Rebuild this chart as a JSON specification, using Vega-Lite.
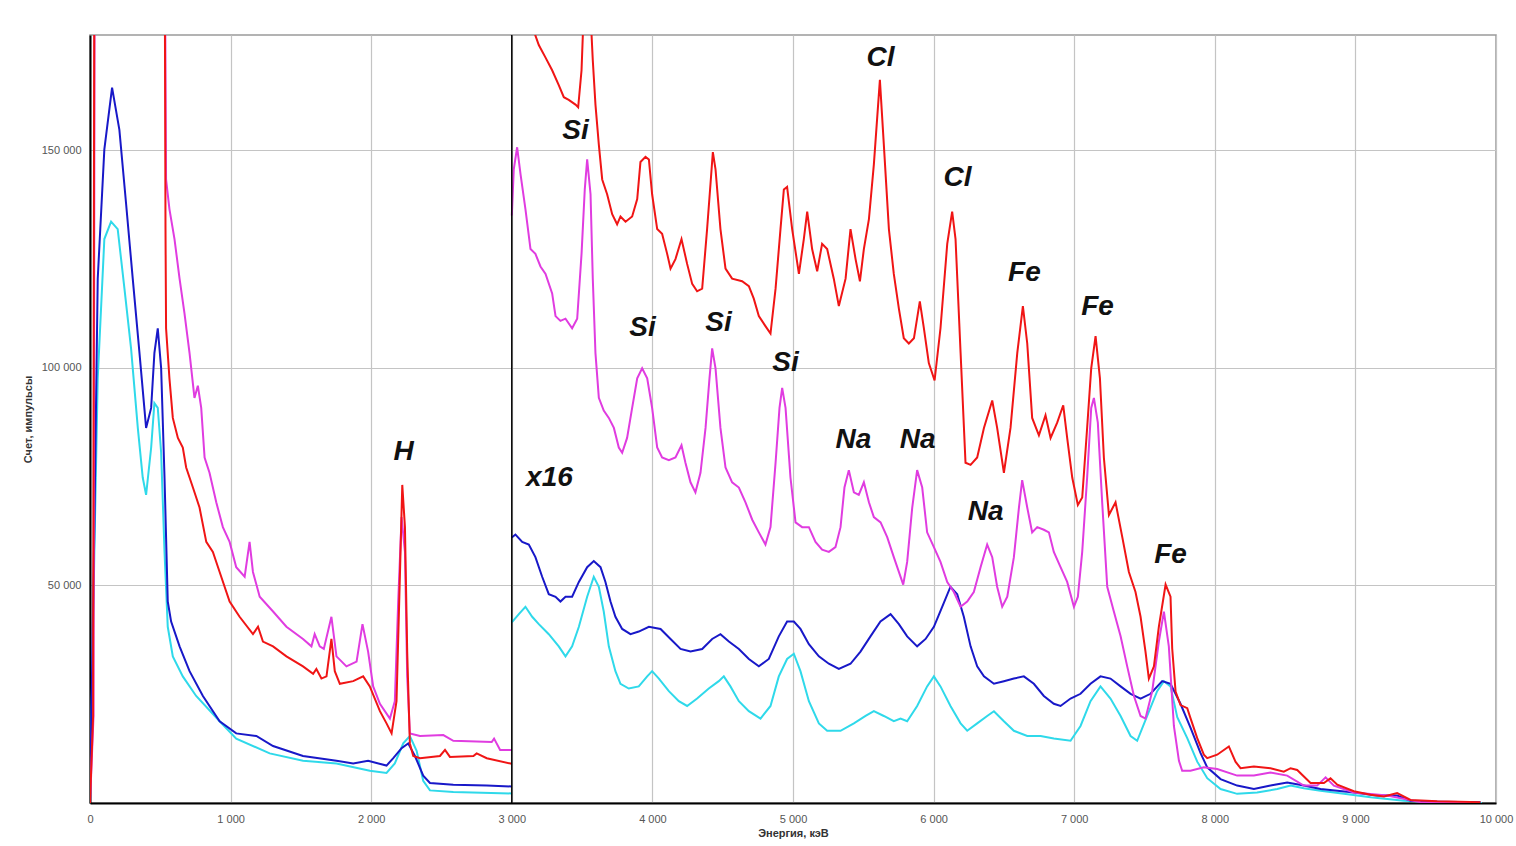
{
"$schema": "https://vega.github.io/schema/vega-lite/v6.json",
"width": 1406, "height": 768,
"autosize": {"type": "none"},
"padding": {"left": 90, "top": 35, "right": 20, "bottom": 43},
"background": "white",
"config": {"view": {"stroke": "#9a9a9a", "strokeWidth": 1.5}, "font": "Liberation Sans"},
"datasets": {
"spec": [
{"s":"cyan","p":"L","x":0,"y":0},{"s":"cyan","p":"L","x":31,"y":57700},{"s":"cyan","p":"L","x":55,"y":97600},{"s":"cyan","p":"L","x":102,"y":129600},{"s":"cyan","p":"L","x":150,"y":133600},{"s":"cyan","p":"L","x":197,"y":131900},{"s":"cyan","p":"L","x":245,"y":118200},{"s":"cyan","p":"L","x":292,"y":104500},{"s":"cyan","p":"L","x":340,"y":86200},{"s":"cyan","p":"L","x":375,"y":74800},{"s":"cyan","p":"L","x":399,"y":70800},{"s":"cyan","p":"L","x":435,"y":81700},{"s":"cyan","p":"L","x":458,"y":91900},{"s":"cyan","p":"L","x":482,"y":90800},{"s":"cyan","p":"L","x":506,"y":80500},{"s":"cyan","p":"L","x":530,"y":57700},{"s":"cyan","p":"L","x":553,"y":40500},{"s":"cyan","p":"L","x":589,"y":33700},{"s":"cyan","p":"L","x":660,"y":29100},{"s":"cyan","p":"L","x":755,"y":24600},{"s":"cyan","p":"L","x":922,"y":18800},{"s":"cyan","p":"L","x":1040,"y":14800},{"s":"cyan","p":"L","x":1278,"y":11400},{"s":"cyan","p":"L","x":1515,"y":9700},{"s":"cyan","p":"L","x":1753,"y":9100},{"s":"cyan","p":"L","x":1990,"y":7400},{"s":"cyan","p":"L","x":2109,"y":6900},{"s":"cyan","p":"L","x":2168,"y":9100},{"s":"cyan","p":"L","x":2228,"y":13700},{"s":"cyan","p":"L","x":2275,"y":15400},{"s":"cyan","p":"L","x":2323,"y":12000},{"s":"cyan","p":"L","x":2370,"y":5100},{"s":"cyan","p":"L","x":2418,"y":2900},{"s":"cyan","p":"L","x":2584,"y":2500},{"s":"cyan","p":"L","x":3000,"y":2200},
{"s":"blue","p":"L","x":0,"y":0},{"s":"blue","p":"L","x":31,"y":63400},{"s":"blue","p":"L","x":55,"y":120500},{"s":"blue","p":"L","x":102,"y":150200},{"s":"blue","p":"L","x":157,"y":164400},{"s":"blue","p":"L","x":209,"y":154700},{"s":"blue","p":"L","x":257,"y":137600},{"s":"blue","p":"L","x":304,"y":120500},{"s":"blue","p":"L","x":352,"y":103400},{"s":"blue","p":"L","x":399,"y":86200},{"s":"blue","p":"L","x":435,"y":90800},{"s":"blue","p":"L","x":458,"y":103400},{"s":"blue","p":"L","x":482,"y":109100},{"s":"blue","p":"L","x":506,"y":99900},{"s":"blue","p":"L","x":530,"y":74800},{"s":"blue","p":"L","x":553,"y":46300},{"s":"blue","p":"L","x":577,"y":41700},{"s":"blue","p":"L","x":637,"y":36000},{"s":"blue","p":"L","x":708,"y":30300},{"s":"blue","p":"L","x":803,"y":24600},{"s":"blue","p":"L","x":922,"y":18800},{"s":"blue","p":"L","x":1040,"y":16000},{"s":"blue","p":"L","x":1183,"y":15400},{"s":"blue","p":"L","x":1302,"y":13100},{"s":"blue","p":"L","x":1515,"y":10800},{"s":"blue","p":"L","x":1753,"y":9700},{"s":"blue","p":"L","x":1872,"y":9100},{"s":"blue","p":"L","x":1978,"y":9700},{"s":"blue","p":"L","x":2109,"y":8600},{"s":"blue","p":"L","x":2157,"y":10300},{"s":"blue","p":"L","x":2216,"y":12600},{"s":"blue","p":"L","x":2263,"y":13700},{"s":"blue","p":"L","x":2311,"y":10800},{"s":"blue","p":"L","x":2370,"y":6300},{"s":"blue","p":"L","x":2418,"y":4600},{"s":"blue","p":"L","x":2584,"y":4200},{"s":"blue","p":"L","x":2822,"y":4000},{"s":"blue","p":"L","x":3000,"y":3800},
{"s":"magenta","p":"L","x":0,"y":0},{"s":"magenta","p":"L","x":25,"y":20000},{"s":"magenta","p":"L","x":38,"y":300000},{"s":"magenta","p":"L","x":528,"y":300000},{"s":"magenta","p":"L","x":532,"y":200000},{"s":"magenta","p":"L","x":541,"y":143300},{"s":"magenta","p":"L","x":565,"y":136500},{"s":"magenta","p":"L","x":601,"y":129600},{"s":"magenta","p":"L","x":637,"y":120500},{"s":"magenta","p":"L","x":672,"y":112500},{"s":"magenta","p":"L","x":708,"y":103400},{"s":"magenta","p":"L","x":743,"y":93100},{"s":"magenta","p":"L","x":767,"y":95900},{"s":"magenta","p":"L","x":791,"y":90800},{"s":"magenta","p":"L","x":815,"y":79400},{"s":"magenta","p":"L","x":850,"y":75900},{"s":"magenta","p":"L","x":898,"y":69100},{"s":"magenta","p":"L","x":945,"y":63400},{"s":"magenta","p":"L","x":993,"y":60000},{"s":"magenta","p":"L","x":1040,"y":54200},{"s":"magenta","p":"L","x":1100,"y":52000},{"s":"magenta","p":"L","x":1135,"y":60000},{"s":"magenta","p":"L","x":1159,"y":53100},{"s":"magenta","p":"L","x":1207,"y":47400},{"s":"magenta","p":"L","x":1302,"y":44000},{"s":"magenta","p":"L","x":1397,"y":40500},{"s":"magenta","p":"L","x":1515,"y":37700},{"s":"magenta","p":"L","x":1575,"y":36000},{"s":"magenta","p":"L","x":1598,"y":38800},{"s":"magenta","p":"L","x":1634,"y":36000},{"s":"magenta","p":"L","x":1663,"y":35400},{"s":"magenta","p":"L","x":1717,"y":42800},{"s":"magenta","p":"L","x":1753,"y":33700},{"s":"magenta","p":"L","x":1824,"y":31400},{"s":"magenta","p":"L","x":1896,"y":32500},{"s":"magenta","p":"L","x":1938,"y":41100},{"s":"magenta","p":"L","x":1978,"y":34800},{"s":"magenta","p":"L","x":2014,"y":26800},{"s":"magenta","p":"L","x":2062,"y":22800},{"s":"magenta","p":"L","x":2133,"y":19400},{"s":"magenta","p":"L","x":2168,"y":23400},{"s":"magenta","p":"L","x":2192,"y":46300},{"s":"magenta","p":"L","x":2216,"y":65700},{"s":"magenta","p":"L","x":2240,"y":57700},{"s":"magenta","p":"L","x":2256,"y":29100},{"s":"magenta","p":"L","x":2275,"y":16000},{"s":"magenta","p":"L","x":2347,"y":15400},{"s":"magenta","p":"L","x":2513,"y":15600},{"s":"magenta","p":"L","x":2584,"y":14300},{"s":"magenta","p":"L","x":2857,"y":14000},{"s":"magenta","p":"L","x":2874,"y":14800},{"s":"magenta","p":"L","x":2917,"y":12200},{"s":"magenta","p":"L","x":3000,"y":12200},
{"s":"red","p":"L","x":0,"y":0},{"s":"red","p":"L","x":22,"y":20000},{"s":"red","p":"L","x":36,"y":300000},{"s":"red","p":"L","x":526,"y":300000},{"s":"red","p":"L","x":531,"y":200000},{"s":"red","p":"L","x":537,"y":131900},{"s":"red","p":"L","x":541,"y":109100},{"s":"red","p":"L","x":565,"y":97600},{"s":"red","p":"L","x":589,"y":88500},{"s":"red","p":"L","x":625,"y":83900},{"s":"red","p":"L","x":660,"y":81700},{"s":"red","p":"L","x":684,"y":77100},{"s":"red","p":"L","x":732,"y":72500},{"s":"red","p":"L","x":779,"y":67900},{"s":"red","p":"L","x":827,"y":60000},{"s":"red","p":"L","x":874,"y":57700},{"s":"red","p":"L","x":922,"y":53100},{"s":"red","p":"L","x":993,"y":46300},{"s":"red","p":"L","x":1064,"y":42800},{"s":"red","p":"L","x":1159,"y":38800},{"s":"red","p":"L","x":1195,"y":40500},{"s":"red","p":"L","x":1230,"y":37100},{"s":"red","p":"L","x":1302,"y":36000},{"s":"red","p":"L","x":1397,"y":33700},{"s":"red","p":"L","x":1515,"y":31400},{"s":"red","p":"L","x":1587,"y":29700},{"s":"red","p":"L","x":1610,"y":30800},{"s":"red","p":"L","x":1646,"y":28600},{"s":"red","p":"L","x":1682,"y":29100},{"s":"red","p":"L","x":1717,"y":37700},{"s":"red","p":"L","x":1741,"y":30300},{"s":"red","p":"L","x":1777,"y":27400},{"s":"red","p":"L","x":1872,"y":28000},{"s":"red","p":"L","x":1943,"y":29100},{"s":"red","p":"L","x":1990,"y":26800},{"s":"red","p":"L","x":2062,"y":21100},{"s":"red","p":"L","x":2109,"y":18300},{"s":"red","p":"L","x":2145,"y":16000},{"s":"red","p":"L","x":2180,"y":23400},{"s":"red","p":"L","x":2204,"y":52000},{"s":"red","p":"L","x":2221,"y":73100},{"s":"red","p":"L","x":2240,"y":63400},{"s":"red","p":"L","x":2256,"y":34800},{"s":"red","p":"L","x":2275,"y":13700},{"s":"red","p":"L","x":2299,"y":10800},{"s":"red","p":"L","x":2347,"y":10300},{"s":"red","p":"L","x":2489,"y":10800},{"s":"red","p":"L","x":2525,"y":12200},{"s":"red","p":"L","x":2560,"y":10600},{"s":"red","p":"L","x":2727,"y":10800},{"s":"red","p":"L","x":2750,"y":11400},{"s":"red","p":"L","x":2822,"y":10300},{"s":"red","p":"L","x":3000,"y":9000},
{"s":"cyan","p":"R","x":3000,"y":41500},{"s":"cyan","p":"R","x":3050,"y":43400},{"s":"cyan","p":"R","x":3097,"y":45100},{"s":"cyan","p":"R","x":3145,"y":42800},{"s":"cyan","p":"R","x":3192,"y":41100},{"s":"cyan","p":"R","x":3263,"y":38800},{"s":"cyan","p":"R","x":3334,"y":36000},{"s":"cyan","p":"R","x":3382,"y":33700},{"s":"cyan","p":"R","x":3429,"y":36000},{"s":"cyan","p":"R","x":3477,"y":40500},{"s":"cyan","p":"R","x":3536,"y":47400},{"s":"cyan","p":"R","x":3583,"y":52000},{"s":"cyan","p":"R","x":3619,"y":49700},{"s":"cyan","p":"R","x":3654,"y":44000},{"s":"cyan","p":"R","x":3690,"y":36000},{"s":"cyan","p":"R","x":3737,"y":30300},{"s":"cyan","p":"R","x":3773,"y":27400},{"s":"cyan","p":"R","x":3832,"y":26300},{"s":"cyan","p":"R","x":3903,"y":26800},{"s":"cyan","p":"R","x":3963,"y":29100},{"s":"cyan","p":"R","x":3998,"y":30300},{"s":"cyan","p":"R","x":4046,"y":28600},{"s":"cyan","p":"R","x":4117,"y":25700},{"s":"cyan","p":"R","x":4188,"y":23400},{"s":"cyan","p":"R","x":4247,"y":22300},{"s":"cyan","p":"R","x":4318,"y":24000},{"s":"cyan","p":"R","x":4401,"y":26300},{"s":"cyan","p":"R","x":4472,"y":28000},{"s":"cyan","p":"R","x":4508,"y":29100},{"s":"cyan","p":"R","x":4555,"y":26800},{"s":"cyan","p":"R","x":4615,"y":23400},{"s":"cyan","p":"R","x":4686,"y":21100},{"s":"cyan","p":"R","x":4769,"y":19400},{"s":"cyan","p":"R","x":4840,"y":22300},{"s":"cyan","p":"R","x":4899,"y":29100},{"s":"cyan","p":"R","x":4958,"y":33100},{"s":"cyan","p":"R","x":5006,"y":34300},{"s":"cyan","p":"R","x":5053,"y":30300},{"s":"cyan","p":"R","x":5113,"y":23400},{"s":"cyan","p":"R","x":5184,"y":18300},{"s":"cyan","p":"R","x":5243,"y":16600},{"s":"cyan","p":"R","x":5302,"y":16600},{"s":"cyan","p":"R","x":5338,"y":16600},{"s":"cyan","p":"R","x":5433,"y":18300},{"s":"cyan","p":"R","x":5516,"y":20000},{"s":"cyan","p":"R","x":5575,"y":21100},{"s":"cyan","p":"R","x":5646,"y":20000},{"s":"cyan","p":"R","x":5717,"y":18800},{"s":"cyan","p":"R","x":5765,"y":19400},{"s":"cyan","p":"R","x":5812,"y":18800},{"s":"cyan","p":"R","x":5883,"y":22300},{"s":"cyan","p":"R","x":5954,"y":26800},{"s":"cyan","p":"R","x":6002,"y":29100},{"s":"cyan","p":"R","x":6049,"y":26800},{"s":"cyan","p":"R","x":6120,"y":22300},{"s":"cyan","p":"R","x":6192,"y":18300},{"s":"cyan","p":"R","x":6239,"y":16600},{"s":"cyan","p":"R","x":6310,"y":18300},{"s":"cyan","p":"R","x":6381,"y":20000},{"s":"cyan","p":"R","x":6429,"y":21100},{"s":"cyan","p":"R","x":6500,"y":18800},{"s":"cyan","p":"R","x":6571,"y":16600},{"s":"cyan","p":"R","x":6666,"y":15400},{"s":"cyan","p":"R","x":6761,"y":15400},{"s":"cyan","p":"R","x":6855,"y":14800},{"s":"cyan","p":"R","x":6974,"y":14300},{"s":"cyan","p":"R","x":7045,"y":17700},{"s":"cyan","p":"R","x":7116,"y":23400},{"s":"cyan","p":"R","x":7187,"y":26800},{"s":"cyan","p":"R","x":7258,"y":24000},{"s":"cyan","p":"R","x":7330,"y":20000},{"s":"cyan","p":"R","x":7401,"y":15400},{"s":"cyan","p":"R","x":7448,"y":14300},{"s":"cyan","p":"R","x":7519,"y":20000},{"s":"cyan","p":"R","x":7590,"y":25700},{"s":"cyan","p":"R","x":7638,"y":28000},{"s":"cyan","p":"R","x":7685,"y":26800},{"s":"cyan","p":"R","x":7733,"y":19700},{"s":"cyan","p":"R","x":7804,"y":14900},{"s":"cyan","p":"R","x":7875,"y":9500},{"s":"cyan","p":"R","x":7946,"y":5700},{"s":"cyan","p":"R","x":8041,"y":3200},{"s":"cyan","p":"R","x":8159,"y":2100},{"s":"cyan","p":"R","x":8301,"y":2400},{"s":"cyan","p":"R","x":8444,"y":3200},{"s":"cyan","p":"R","x":8539,"y":4000},{"s":"cyan","p":"R","x":8633,"y":3400},{"s":"cyan","p":"R","x":8752,"y":2800},{"s":"cyan","p":"R","x":8918,"y":2100},{"s":"cyan","p":"R","x":9108,"y":1300},{"s":"cyan","p":"R","x":9345,"y":500},{"s":"cyan","p":"R","x":9582,"y":150},{"s":"cyan","p":"R","x":9900,"y":0},
{"s":"blue","p":"R","x":3000,"y":61000},{"s":"blue","p":"R","x":3026,"y":61700},{"s":"blue","p":"R","x":3074,"y":60000},{"s":"blue","p":"R","x":3121,"y":59400},{"s":"blue","p":"R","x":3168,"y":56500},{"s":"blue","p":"R","x":3216,"y":52000},{"s":"blue","p":"R","x":3263,"y":48000},{"s":"blue","p":"R","x":3311,"y":47400},{"s":"blue","p":"R","x":3346,"y":46300},{"s":"blue","p":"R","x":3382,"y":47400},{"s":"blue","p":"R","x":3429,"y":47400},{"s":"blue","p":"R","x":3477,"y":50800},{"s":"blue","p":"R","x":3536,"y":54200},{"s":"blue","p":"R","x":3583,"y":55600},{"s":"blue","p":"R","x":3631,"y":54200},{"s":"blue","p":"R","x":3666,"y":50800},{"s":"blue","p":"R","x":3702,"y":46300},{"s":"blue","p":"R","x":3737,"y":42800},{"s":"blue","p":"R","x":3785,"y":40000},{"s":"blue","p":"R","x":3844,"y":38800},{"s":"blue","p":"R","x":3903,"y":39400},{"s":"blue","p":"R","x":3975,"y":40500},{"s":"blue","p":"R","x":4058,"y":40000},{"s":"blue","p":"R","x":4129,"y":37700},{"s":"blue","p":"R","x":4200,"y":35400},{"s":"blue","p":"R","x":4271,"y":34800},{"s":"blue","p":"R","x":4354,"y":35400},{"s":"blue","p":"R","x":4425,"y":37700},{"s":"blue","p":"R","x":4484,"y":38800},{"s":"blue","p":"R","x":4544,"y":37100},{"s":"blue","p":"R","x":4615,"y":35400},{"s":"blue","p":"R","x":4686,"y":33100},{"s":"blue","p":"R","x":4757,"y":31400},{"s":"blue","p":"R","x":4828,"y":33100},{"s":"blue","p":"R","x":4899,"y":38300},{"s":"blue","p":"R","x":4958,"y":41700},{"s":"blue","p":"R","x":5006,"y":41700},{"s":"blue","p":"R","x":5053,"y":40000},{"s":"blue","p":"R","x":5113,"y":36500},{"s":"blue","p":"R","x":5184,"y":33700},{"s":"blue","p":"R","x":5255,"y":32000},{"s":"blue","p":"R","x":5326,"y":30800},{"s":"blue","p":"R","x":5409,"y":32000},{"s":"blue","p":"R","x":5480,"y":34800},{"s":"blue","p":"R","x":5551,"y":38300},{"s":"blue","p":"R","x":5622,"y":41700},{"s":"blue","p":"R","x":5694,"y":43400},{"s":"blue","p":"R","x":5753,"y":41100},{"s":"blue","p":"R","x":5812,"y":38300},{"s":"blue","p":"R","x":5883,"y":36000},{"s":"blue","p":"R","x":5943,"y":37700},{"s":"blue","p":"R","x":6002,"y":40500},{"s":"blue","p":"R","x":6061,"y":45100},{"s":"blue","p":"R","x":6120,"y":49700},{"s":"blue","p":"R","x":6168,"y":48000},{"s":"blue","p":"R","x":6215,"y":42800},{"s":"blue","p":"R","x":6263,"y":36000},{"s":"blue","p":"R","x":6310,"y":31400},{"s":"blue","p":"R","x":6358,"y":29100},{"s":"blue","p":"R","x":6429,"y":27400},{"s":"blue","p":"R","x":6500,"y":28000},{"s":"blue","p":"R","x":6571,"y":28600},{"s":"blue","p":"R","x":6642,"y":29100},{"s":"blue","p":"R","x":6713,"y":27400},{"s":"blue","p":"R","x":6784,"y":24600},{"s":"blue","p":"R","x":6855,"y":22800},{"s":"blue","p":"R","x":6903,"y":22300},{"s":"blue","p":"R","x":6974,"y":24000},{"s":"blue","p":"R","x":7045,"y":25100},{"s":"blue","p":"R","x":7116,"y":27400},{"s":"blue","p":"R","x":7187,"y":29100},{"s":"blue","p":"R","x":7258,"y":28600},{"s":"blue","p":"R","x":7330,"y":26800},{"s":"blue","p":"R","x":7401,"y":25100},{"s":"blue","p":"R","x":7472,"y":24000},{"s":"blue","p":"R","x":7543,"y":25100},{"s":"blue","p":"R","x":7626,"y":28000},{"s":"blue","p":"R","x":7685,"y":27400},{"s":"blue","p":"R","x":7756,"y":22800},{"s":"blue","p":"R","x":7827,"y":17300},{"s":"blue","p":"R","x":7898,"y":11500},{"s":"blue","p":"R","x":7946,"y":8200},{"s":"blue","p":"R","x":8041,"y":5500},{"s":"blue","p":"R","x":8159,"y":4000},{"s":"blue","p":"R","x":8278,"y":3200},{"s":"blue","p":"R","x":8396,"y":4000},{"s":"blue","p":"R","x":8515,"y":4700},{"s":"blue","p":"R","x":8633,"y":4000},{"s":"blue","p":"R","x":8752,"y":3200},{"s":"blue","p":"R","x":8871,"y":2800},{"s":"blue","p":"R","x":8989,"y":2400},{"s":"blue","p":"R","x":9155,"y":1700},{"s":"blue","p":"R","x":9297,"y":1700},{"s":"blue","p":"R","x":9392,"y":500},{"s":"blue","p":"R","x":9582,"y":300},{"s":"blue","p":"R","x":9890,"y":150},
{"s":"magenta","p":"R","x":3000,"y":135000},{"s":"magenta","p":"R","x":3014,"y":145600},{"s":"magenta","p":"R","x":3038,"y":150700},{"s":"magenta","p":"R","x":3062,"y":144500},{"s":"magenta","p":"R","x":3097,"y":136500},{"s":"magenta","p":"R","x":3133,"y":127300},{"s":"magenta","p":"R","x":3168,"y":126200},{"s":"magenta","p":"R","x":3204,"y":123300},{"s":"magenta","p":"R","x":3240,"y":121600},{"s":"magenta","p":"R","x":3287,"y":117100},{"s":"magenta","p":"R","x":3311,"y":111900},{"s":"magenta","p":"R","x":3346,"y":110800},{"s":"magenta","p":"R","x":3382,"y":111300},{"s":"magenta","p":"R","x":3429,"y":109100},{"s":"magenta","p":"R","x":3465,"y":111300},{"s":"magenta","p":"R","x":3496,"y":126200},{"s":"magenta","p":"R","x":3519,"y":141000},{"s":"magenta","p":"R","x":3536,"y":147900},{"s":"magenta","p":"R","x":3560,"y":139900},{"s":"magenta","p":"R","x":3576,"y":120500},{"s":"magenta","p":"R","x":3595,"y":103400},{"s":"magenta","p":"R","x":3619,"y":93100},{"s":"magenta","p":"R","x":3654,"y":90200},{"s":"magenta","p":"R","x":3690,"y":88500},{"s":"magenta","p":"R","x":3726,"y":86200},{"s":"magenta","p":"R","x":3761,"y":81700},{"s":"magenta","p":"R","x":3785,"y":80500},{"s":"magenta","p":"R","x":3820,"y":83900},{"s":"magenta","p":"R","x":3856,"y":90800},{"s":"magenta","p":"R","x":3892,"y":97600},{"s":"magenta","p":"R","x":3927,"y":99900},{"s":"magenta","p":"R","x":3963,"y":97600},{"s":"magenta","p":"R","x":3998,"y":90800},{"s":"magenta","p":"R","x":4034,"y":81700},{"s":"magenta","p":"R","x":4069,"y":79400},{"s":"magenta","p":"R","x":4117,"y":78800},{"s":"magenta","p":"R","x":4164,"y":79400},{"s":"magenta","p":"R","x":4207,"y":82200},{"s":"magenta","p":"R","x":4235,"y":78200},{"s":"magenta","p":"R","x":4271,"y":73700},{"s":"magenta","p":"R","x":4306,"y":71400},{"s":"magenta","p":"R","x":4342,"y":75900},{"s":"magenta","p":"R","x":4378,"y":86200},{"s":"magenta","p":"R","x":4406,"y":97600},{"s":"magenta","p":"R","x":4425,"y":104500},{"s":"magenta","p":"R","x":4449,"y":99900},{"s":"magenta","p":"R","x":4484,"y":86200},{"s":"magenta","p":"R","x":4520,"y":77100},{"s":"magenta","p":"R","x":4567,"y":73700},{"s":"magenta","p":"R","x":4615,"y":72500},{"s":"magenta","p":"R","x":4662,"y":69100},{"s":"magenta","p":"R","x":4710,"y":65100},{"s":"magenta","p":"R","x":4757,"y":62200},{"s":"magenta","p":"R","x":4804,"y":59400},{"s":"magenta","p":"R","x":4840,"y":63400},{"s":"magenta","p":"R","x":4876,"y":78200},{"s":"magenta","p":"R","x":4904,"y":90800},{"s":"magenta","p":"R","x":4923,"y":95400},{"s":"magenta","p":"R","x":4947,"y":90800},{"s":"magenta","p":"R","x":4982,"y":74800},{"s":"magenta","p":"R","x":5018,"y":64500},{"s":"magenta","p":"R","x":5065,"y":63400},{"s":"magenta","p":"R","x":5113,"y":63400},{"s":"magenta","p":"R","x":5160,"y":60000},{"s":"magenta","p":"R","x":5207,"y":58200},{"s":"magenta","p":"R","x":5255,"y":57700},{"s":"magenta","p":"R","x":5302,"y":58800},{"s":"magenta","p":"R","x":5338,"y":63400},{"s":"magenta","p":"R","x":5366,"y":72500},{"s":"magenta","p":"R","x":5397,"y":76500},{"s":"magenta","p":"R","x":5433,"y":71400},{"s":"magenta","p":"R","x":5468,"y":70800},{"s":"magenta","p":"R","x":5504,"y":73700},{"s":"magenta","p":"R","x":5540,"y":69100},{"s":"magenta","p":"R","x":5575,"y":65700},{"s":"magenta","p":"R","x":5623,"y":64500},{"s":"magenta","p":"R","x":5670,"y":61100},{"s":"magenta","p":"R","x":5717,"y":56500},{"s":"magenta","p":"R","x":5753,"y":53100},{"s":"magenta","p":"R","x":5784,"y":50200},{"s":"magenta","p":"R","x":5812,"y":55400},{"s":"magenta","p":"R","x":5848,"y":67900},{"s":"magenta","p":"R","x":5883,"y":76500},{"s":"magenta","p":"R","x":5919,"y":72500},{"s":"magenta","p":"R","x":5954,"y":62200},{"s":"magenta","p":"R","x":6002,"y":58800},{"s":"magenta","p":"R","x":6049,"y":55400},{"s":"magenta","p":"R","x":6097,"y":50800},{"s":"magenta","p":"R","x":6144,"y":48500},{"s":"magenta","p":"R","x":6192,"y":45100},{"s":"magenta","p":"R","x":6239,"y":46300},{"s":"magenta","p":"R","x":6286,"y":48500},{"s":"magenta","p":"R","x":6334,"y":54200},{"s":"magenta","p":"R","x":6381,"y":59400},{"s":"magenta","p":"R","x":6417,"y":56500},{"s":"magenta","p":"R","x":6452,"y":49700},{"s":"magenta","p":"R","x":6488,"y":45100},{"s":"magenta","p":"R","x":6524,"y":47400},{"s":"magenta","p":"R","x":6571,"y":56500},{"s":"magenta","p":"R","x":6607,"y":67900},{"s":"magenta","p":"R","x":6630,"y":74200},{"s":"magenta","p":"R","x":6666,"y":67900},{"s":"magenta","p":"R","x":6701,"y":62200},{"s":"magenta","p":"R","x":6737,"y":63400},{"s":"magenta","p":"R","x":6784,"y":62800},{"s":"magenta","p":"R","x":6820,"y":62200},{"s":"magenta","p":"R","x":6855,"y":57700},{"s":"magenta","p":"R","x":6903,"y":54200},{"s":"magenta","p":"R","x":6950,"y":50800},{"s":"magenta","p":"R","x":6998,"y":45100},{"s":"magenta","p":"R","x":7026,"y":47400},{"s":"magenta","p":"R","x":7057,"y":57700},{"s":"magenta","p":"R","x":7092,"y":74800},{"s":"magenta","p":"R","x":7121,"y":90800},{"s":"magenta","p":"R","x":7140,"y":93100},{"s":"magenta","p":"R","x":7168,"y":87400},{"s":"magenta","p":"R","x":7199,"y":69100},{"s":"magenta","p":"R","x":7235,"y":49700},{"s":"magenta","p":"R","x":7282,"y":44000},{"s":"magenta","p":"R","x":7330,"y":38300},{"s":"magenta","p":"R","x":7377,"y":31400},{"s":"magenta","p":"R","x":7425,"y":24600},{"s":"magenta","p":"R","x":7472,"y":20000},{"s":"magenta","p":"R","x":7507,"y":19400},{"s":"magenta","p":"R","x":7555,"y":25700},{"s":"magenta","p":"R","x":7602,"y":37100},{"s":"magenta","p":"R","x":7638,"y":44000},{"s":"magenta","p":"R","x":7673,"y":36000},{"s":"magenta","p":"R","x":7709,"y":17700},{"s":"magenta","p":"R","x":7745,"y":9700},{"s":"magenta","p":"R","x":7768,"y":7400},{"s":"magenta","p":"R","x":7827,"y":7400},{"s":"magenta","p":"R","x":7922,"y":8200},{"s":"magenta","p":"R","x":8017,"y":7800},{"s":"magenta","p":"R","x":8159,"y":6300},{"s":"magenta","p":"R","x":8278,"y":6300},{"s":"magenta","p":"R","x":8396,"y":7000},{"s":"magenta","p":"R","x":8515,"y":6300},{"s":"magenta","p":"R","x":8633,"y":4000},{"s":"magenta","p":"R","x":8728,"y":4000},{"s":"magenta","p":"R","x":8788,"y":5900},{"s":"magenta","p":"R","x":8847,"y":4000},{"s":"magenta","p":"R","x":8989,"y":2400},{"s":"magenta","p":"R","x":9226,"y":1700},{"s":"magenta","p":"R","x":9463,"y":200},{"s":"magenta","p":"R","x":9819,"y":0},
{"s":"red","p":"R","x":3000,"y":200000},{"s":"red","p":"R","x":3150,"y":178000},{"s":"red","p":"R","x":3192,"y":174200},{"s":"red","p":"R","x":3240,"y":171300},{"s":"red","p":"R","x":3287,"y":168400},{"s":"red","p":"R","x":3334,"y":165000},{"s":"red","p":"R","x":3370,"y":162200},{"s":"red","p":"R","x":3405,"y":161600},{"s":"red","p":"R","x":3453,"y":160500},{"s":"red","p":"R","x":3472,"y":159900},{"s":"red","p":"R","x":3496,"y":168400},{"s":"red","p":"R","x":3515,"y":185000},{"s":"red","p":"R","x":3540,"y":195000},{"s":"red","p":"R","x":3562,"y":180000},{"s":"red","p":"R","x":3576,"y":170700},{"s":"red","p":"R","x":3595,"y":160500},{"s":"red","p":"R","x":3619,"y":151300},{"s":"red","p":"R","x":3643,"y":143300},{"s":"red","p":"R","x":3678,"y":139900},{"s":"red","p":"R","x":3714,"y":135300},{"s":"red","p":"R","x":3749,"y":133000},{"s":"red","p":"R","x":3773,"y":134800},{"s":"red","p":"R","x":3809,"y":133600},{"s":"red","p":"R","x":3856,"y":134800},{"s":"red","p":"R","x":3892,"y":138800},{"s":"red","p":"R","x":3915,"y":147300},{"s":"red","p":"R","x":3951,"y":148500},{"s":"red","p":"R","x":3975,"y":147900},{"s":"red","p":"R","x":3998,"y":139900},{"s":"red","p":"R","x":4034,"y":131900},{"s":"red","p":"R","x":4069,"y":130800},{"s":"red","p":"R","x":4105,"y":126200},{"s":"red","p":"R","x":4129,"y":122800},{"s":"red","p":"R","x":4164,"y":125000},{"s":"red","p":"R","x":4207,"y":129600},{"s":"red","p":"R","x":4247,"y":123900},{"s":"red","p":"R","x":4283,"y":119300},{"s":"red","p":"R","x":4318,"y":117600},{"s":"red","p":"R","x":4354,"y":118200},{"s":"red","p":"R","x":4389,"y":131900},{"s":"red","p":"R","x":4413,"y":142200},{"s":"red","p":"R","x":4430,"y":149600},{"s":"red","p":"R","x":4449,"y":145600},{"s":"red","p":"R","x":4484,"y":131900},{"s":"red","p":"R","x":4520,"y":122800},{"s":"red","p":"R","x":4567,"y":120500},{"s":"red","p":"R","x":4638,"y":119900},{"s":"red","p":"R","x":4686,"y":118800},{"s":"red","p":"R","x":4721,"y":115900},{"s":"red","p":"R","x":4757,"y":111900},{"s":"red","p":"R","x":4804,"y":109600},{"s":"red","p":"R","x":4840,"y":107900},{"s":"red","p":"R","x":4876,"y":118200},{"s":"red","p":"R","x":4911,"y":131900},{"s":"red","p":"R","x":4935,"y":141000},{"s":"red","p":"R","x":4958,"y":141600},{"s":"red","p":"R","x":4994,"y":131900},{"s":"red","p":"R","x":5042,"y":121600},{"s":"red","p":"R","x":5077,"y":129600},{"s":"red","p":"R","x":5101,"y":135900},{"s":"red","p":"R","x":5136,"y":127300},{"s":"red","p":"R","x":5172,"y":122200},{"s":"red","p":"R","x":5207,"y":128500},{"s":"red","p":"R","x":5243,"y":127300},{"s":"red","p":"R","x":5290,"y":120500},{"s":"red","p":"R","x":5326,"y":114200},{"s":"red","p":"R","x":5374,"y":120500},{"s":"red","p":"R","x":5409,"y":131900},{"s":"red","p":"R","x":5445,"y":125000},{"s":"red","p":"R","x":5476,"y":119900},{"s":"red","p":"R","x":5504,"y":127300},{"s":"red","p":"R","x":5540,"y":134200},{"s":"red","p":"R","x":5575,"y":146700},{"s":"red","p":"R","x":5618,"y":166200},{"s":"red","p":"R","x":5646,"y":151300},{"s":"red","p":"R","x":5682,"y":131900},{"s":"red","p":"R","x":5717,"y":121600},{"s":"red","p":"R","x":5753,"y":113600},{"s":"red","p":"R","x":5788,"y":106800},{"s":"red","p":"R","x":5824,"y":105600},{"s":"red","p":"R","x":5860,"y":106800},{"s":"red","p":"R","x":5902,"y":115300},{"s":"red","p":"R","x":5931,"y":109100},{"s":"red","p":"R","x":5966,"y":101100},{"s":"red","p":"R","x":6007,"y":97100},{"s":"red","p":"R","x":6049,"y":109100},{"s":"red","p":"R","x":6097,"y":128500},{"s":"red","p":"R","x":6132,"y":135900},{"s":"red","p":"R","x":6156,"y":129600},{"s":"red","p":"R","x":6192,"y":103400},{"s":"red","p":"R","x":6227,"y":78200},{"s":"red","p":"R","x":6263,"y":77700},{"s":"red","p":"R","x":6310,"y":79400},{"s":"red","p":"R","x":6358,"y":86200},{"s":"red","p":"R","x":6417,"y":92500},{"s":"red","p":"R","x":6452,"y":86200},{"s":"red","p":"R","x":6500,"y":75900},{"s":"red","p":"R","x":6547,"y":86200},{"s":"red","p":"R","x":6595,"y":103400},{"s":"red","p":"R","x":6635,"y":114200},{"s":"red","p":"R","x":6666,"y":105600},{"s":"red","p":"R","x":6701,"y":88500},{"s":"red","p":"R","x":6749,"y":84500},{"s":"red","p":"R","x":6796,"y":89100},{"s":"red","p":"R","x":6832,"y":83900},{"s":"red","p":"R","x":6879,"y":87400},{"s":"red","p":"R","x":6922,"y":91400},{"s":"red","p":"R","x":6950,"y":83900},{"s":"red","p":"R","x":6986,"y":74800},{"s":"red","p":"R","x":7026,"y":68500},{"s":"red","p":"R","x":7057,"y":70200},{"s":"red","p":"R","x":7092,"y":86200},{"s":"red","p":"R","x":7121,"y":99900},{"s":"red","p":"R","x":7152,"y":107300},{"s":"red","p":"R","x":7183,"y":97600},{"s":"red","p":"R","x":7211,"y":79400},{"s":"red","p":"R","x":7247,"y":66200},{"s":"red","p":"R","x":7294,"y":69100},{"s":"red","p":"R","x":7342,"y":61100},{"s":"red","p":"R","x":7389,"y":53100},{"s":"red","p":"R","x":7436,"y":48500},{"s":"red","p":"R","x":7472,"y":42800},{"s":"red","p":"R","x":7507,"y":34800},{"s":"red","p":"R","x":7531,"y":28600},{"s":"red","p":"R","x":7567,"y":31400},{"s":"red","p":"R","x":7602,"y":40500},{"s":"red","p":"R","x":7650,"y":50200},{"s":"red","p":"R","x":7685,"y":47400},{"s":"red","p":"R","x":7697,"y":35500},{"s":"red","p":"R","x":7721,"y":25600},{"s":"red","p":"R","x":7756,"y":22500},{"s":"red","p":"R","x":7804,"y":21800},{"s":"red","p":"R","x":7827,"y":19500},{"s":"red","p":"R","x":7875,"y":14900},{"s":"red","p":"R","x":7922,"y":11100},{"s":"red","p":"R","x":7946,"y":10300},{"s":"red","p":"R","x":8017,"y":11100},{"s":"red","p":"R","x":8100,"y":13000},{"s":"red","p":"R","x":8147,"y":9500},{"s":"red","p":"R","x":8183,"y":8000},{"s":"red","p":"R","x":8278,"y":8400},{"s":"red","p":"R","x":8396,"y":8000},{"s":"red","p":"R","x":8491,"y":7200},{"s":"red","p":"R","x":8539,"y":8000},{"s":"red","p":"R","x":8586,"y":7600},{"s":"red","p":"R","x":8681,"y":4600},{"s":"red","p":"R","x":8776,"y":4600},{"s":"red","p":"R","x":8823,"y":5700},{"s":"red","p":"R","x":8871,"y":4200},{"s":"red","p":"R","x":8989,"y":2700},{"s":"red","p":"R","x":9108,"y":1900},{"s":"red","p":"R","x":9203,"y":1500},{"s":"red","p":"R","x":9297,"y":2300},{"s":"red","p":"R","x":9392,"y":700},{"s":"red","p":"R","x":9582,"y":400},{"s":"red","p":"R","x":9890,"y":200}
],
"labels": [
{"t":"H","x":2230,"y":80700},{"t":"x16","x":3268,"y":74800},{"t":"Si","x":3453,"y":154400},{"t":"Si","x":3930,"y":109200},{"t":"Si","x":4470,"y":110300},{"t":"Si","x":4947,"y":101200},{"t":"Cl","x":5622,"y":171100},{"t":"Cl","x":6170,"y":143600},{"t":"Fe","x":6646,"y":121800},{"t":"Fe","x":7166,"y":114000},{"t":"Fe","x":7685,"y":57100},{"t":"Na","x":5430,"y":83500},{"t":"Na","x":5886,"y":83500},{"t":"Na","x":6370,"y":66800}
]
},
"layer": [
{
"data": {"name": "spec"},
"mark": {"type": "line", "strokeWidth": 2, "clip": true},
"encoding": {
"x": {"field": "x", "type": "quantitative", "scale": {"domain": [0, 10000], "nice": false},
 "axis": {"values": [0,1000,2000,3000,4000,5000,6000,7000,8000,9000,10000], "labelExpr": "replace(format(datum.value, ','), ',', ' ')", "title": "Энергия, кэВ", "titleFontWeight": "bold", "titleFontSize": 11, "titleColor": "#333333", "labelFontSize": 11, "labelColor": "#555555", "ticks": false, "grid": true, "gridColor": "#c4c4c4", "gridWidth": 1.2, "domainColor": "#000000", "domainWidth": 2, "labelPadding": 10, "titlePadding": 3, "labelFlush": false}},
"y": {"field": "y", "type": "quantitative", "scale": {"domain": [0, 176500], "nice": false},
 "axis": {"values": [50000, 100000, 150000], "labelExpr": "replace(format(datum.value, ','), ',', ' ')", "title": "Счет, импульсы", "titleFontWeight": "bold", "titleFontSize": 11, "titleColor": "#333333", "labelFontSize": 11, "labelColor": "#555555", "ticks": false, "grid": true, "gridColor": "#c4c4c4", "gridWidth": 1.2, "domainColor": "#000000", "domainWidth": 2, "labelPadding": 9, "titlePadding": 8}},
"color": {"field": "s", "type": "nominal", "scale": {"domain": ["cyan", "blue", "magenta", "red"], "range": ["#2fd9ea", "#1818c8", "#e03ce0", "#f01515"]}, "legend": null},
"detail": {"field": "p"}
}
},
{
"data": {"values": [{"x": 3000}]},
"mark": {"type": "rule", "color": "#000000", "strokeWidth": 1.5},
"encoding": {"x": {"field": "x", "type": "quantitative"}}
},
{
"data": {"name": "labels"},
"mark": {"type": "text", "font": "Liberation Sans", "fontSize": 28, "fontWeight": "bold", "fontStyle": "italic", "color": "#111111", "align": "center", "baseline": "middle"},
"encoding": {
"x": {"field": "x", "type": "quantitative"},
"y": {"field": "y", "type": "quantitative"},
"text": {"field": "t"}
}
}
]
}
